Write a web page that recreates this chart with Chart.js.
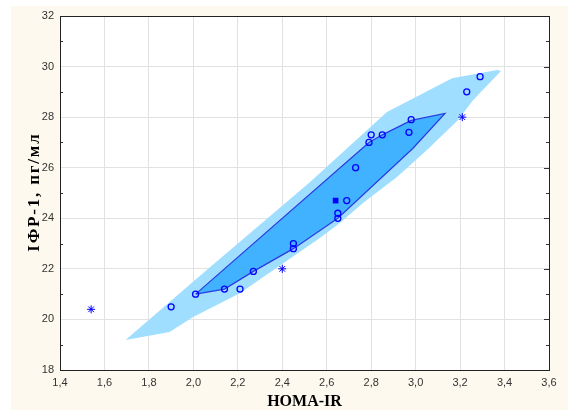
<!DOCTYPE html>
<html><head><meta charset="utf-8">
<script src="https://cdn.jsdelivr.net/npm/chart.js@4.4.0/dist/chart.umd.min.js"></script>
<style>html,body{margin:0;padding:0;background:#fff;}</style>
</head><body>
<canvas id="c" width="568" height="410"></canvas>
<script>
// observed points (HOMA-IR, IGF-1)
const circleX = [1.90, 2.01, 2.14, 2.21, 2.27, 2.45, 2.45, 2.65, 2.65, 2.69, 2.73, 2.79, 2.80, 2.85, 2.97, 2.98, 3.23, 3.29];
const circleY = [20.5, 21.0, 21.2, 21.2, 21.9, 22.8, 23.0, 24.0, 24.2, 24.7, 26.0, 27.0, 27.3, 27.3, 27.4, 27.9, 29.0, 29.6];
// outliers
const starX = [1.54, 2.40, 3.21];
const starY = [20.4, 22.0, 28.0];
// median / center
const centerX = [2.64];
const centerY = [24.7];
// outer (fence) region
const outerX = [1.695, 2.060, 2.524, 2.871, 3.164, 3.366, 3.384, 3.258, 3.190, 3.051, 2.916, 2.763, 2.659, 2.569, 2.209, 1.997, 1.893, 1.695];
const outerY = [19.19, 21.95, 25.43, 28.20, 29.54, 29.86, 29.82, 28.67, 27.88, 26.70, 25.63, 24.60, 23.81, 23.22, 21.04, 20.09, 19.50, 19.19];
// inner (bag) region
const innerX = [2.01, 2.79, 2.85, 2.98, 3.132, 2.987, 2.65, 2.45, 2.27, 2.14, 2.01];
const innerY = [21.0, 27.0, 27.3, 27.87, 28.15, 26.76, 24.0, 22.8, 21.9, 21.2, 21.0];
// axes
const xTickValues = [1.4, 1.6, 1.8, 2.0, 2.2, 2.4, 2.6, 2.8, 3.0, 3.2, 3.4, 3.6];
const xTickLabels = ['1,4','1,6','1,8','2,0','2,2','2,4','2,6','2,8','3,0','3,2','3,4','3,6'];
const yTickValues = [18, 20, 22, 24, 26, 28, 30, 32];
const yTickLabels = ['18','20','22','24','26','28','30','32'];
const yMinorValues = [19, 21, 23, 25, 27, 29, 31];
const xTitle = 'HOMA-IR';
const yTitle = 'ІФР-1, пг/мл';

const pts = (xs, ys) => xs.map((x, i) => ({x, y: ys[i]}));

const decor = {
  id: 'decor',
  beforeDraw(chart) {
    const {ctx, chartArea: a} = chart;
    ctx.save();
    ctx.fillStyle = '#FEF9EE';
    ctx.fillRect(11, 6, chart.width - 11, chart.height - 6);
    ctx.fillStyle = '#FFFFFF';
    ctx.fillRect(a.left, a.top, a.right - a.left, a.bottom - a.top);
    ctx.restore();
  },
  afterDraw(chart) {
    const {ctx, chartArea: a} = chart;
    const ys = chart.scales.y;
    ctx.save();
    ctx.strokeStyle = '#333';
    ctx.lineWidth = 1;
    ctx.beginPath();
    yMinorValues.forEach(v => {
      const p = Math.round(ys.getPixelForValue(v)) + 0.5;
      ctx.moveTo(a.left, p); ctx.lineTo(a.left + 3, p);
      ctx.moveTo(a.right, p); ctx.lineTo(a.right - 3, p);
    });
    yTickValues.forEach(v => {
      const p = Math.round(ys.getPixelForValue(v)) + 0.5;
      ctx.moveTo(a.right, p); ctx.lineTo(a.right - 5, p);
    });
    ctx.stroke();
    ctx.strokeStyle = '#222';
    ctx.strokeRect(Math.round(a.left) + 0.5, Math.round(a.top) + 0.5, Math.round(a.right - a.left), Math.round(a.bottom - a.top));
    ctx.restore();
    // y axis title (rotated)
    ctx.save();
    ctx.translate(35, (a.top + a.bottom) / 2);
    ctx.rotate(-Math.PI / 2);
    ctx.font = 'bold 17px "Liberation Serif", "Times New Roman", serif';
    ctx.letterSpacing = '1.8px';
    ctx.fillStyle = '#000';
    ctx.textAlign = 'center';
    ctx.textBaseline = 'middle';
    ctx.fillText(yTitle, 0.9, 0);
    ctx.restore();
  }
};

new Chart(document.getElementById('c'), {
  type: 'scatter',
  data: {
    datasets: [
      {
        label: 'circles', data: pts(circleX, circleY), order: 1,
        pointStyle: 'circle', pointRadius: 3, pointBorderWidth: 1.3,
        pointBackgroundColor: 'rgba(0,0,0,0)', pointBorderColor: '#0000FF'
      },
      {
        label: 'outliers', data: pts(starX, starY), order: 1,
        pointStyle: 'star', pointRadius: 4, pointBorderWidth: 1,
        pointBorderColor: '#0000FF', pointBackgroundColor: '#0000FF'
      },
      {
        label: 'center', data: pts(centerX, centerY), order: 1,
        pointStyle: 'rect', pointRadius: 4, pointBorderWidth: 0,
        pointBorderColor: '#0000FF', pointBackgroundColor: '#0000FF'
      },
      {
        label: 'bag', data: pts(innerX, innerY), order: 3, showLine: true,
        fill: 'shape', backgroundColor: '#40B2FF', borderColor: '#2A3BE0', borderWidth: 1.2,
        pointRadius: 0, tension: 0
      },
      {
        label: 'fence', data: pts(outerX, outerY), order: 4, showLine: true,
        fill: 'shape', backgroundColor: '#A0DEFF', borderColor: 'rgba(0,0,0,0)', borderWidth: 0,
        pointRadius: 0, tension: 0
      }
    ]
  },
  options: {
    responsive: false, animation: false, devicePixelRatio: 1,
    layout: {padding: {left: 0, top: 16, right: 19, bottom: 0}},
    plugins: {legend: {display: false}, tooltip: {enabled: false}},
    scales: {
      x: {
        type: 'linear', min: 1.4, max: 3.6,
        afterBuildTicks: s => { s.ticks = xTickValues.map(v => ({value: v})); },
        afterFit: s => { s.height = 40; },
        ticks: {
          callback: (v) => { const i = xTickValues.findIndex(t => Math.abs(t - v) < 1e-6); return i >= 0 ? xTickLabels[i] : ''; },
          font: {family: 'Liberation Sans, Arial', size: 11}, color: '#333', padding: 6, maxRotation: 0, autoSkip: false
        },
        grid: {color: '#E2E2E2', lineWidth: 1, drawTicks: false},
        border: {color: '#222', width: 1},
        title: {display: true, text: xTitle, font: {family: 'Liberation Serif', size: 16, weight: 'bold'}, color: '#000', padding: {top: 0, bottom: -1}}
      },
      y: {
        type: 'linear', min: 18, max: 32,
        afterBuildTicks: s => { s.ticks = yTickValues.map(v => ({value: v})); },
        afterFit: s => { s.width = 60; },
        ticks: {
          callback: (v) => { const i = yTickValues.indexOf(v); return i >= 0 ? yTickLabels[i] : ''; },
          font: {family: 'Liberation Sans, Arial', size: 11}, color: '#333', padding: 6, autoSkip: false
        },
        grid: {color: '#E2E2E2', lineWidth: 1, drawTicks: false},
        border: {color: '#222', width: 1},
        title: {display: false}
      }
    }
  },
  plugins: [decor]
});
</script>
</body></html>
